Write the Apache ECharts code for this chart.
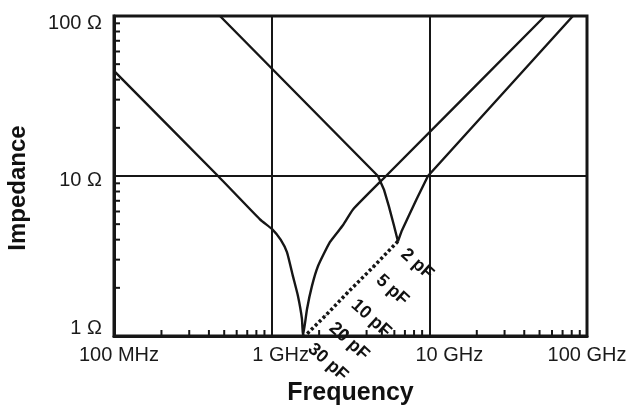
<!DOCTYPE html>
<html>
<head>
<meta charset="utf-8">
<script src="https://cdn.jsdelivr.net/npm/echarts@6/dist/echarts.min.js"></script>
<style>
  html, body { margin: 0; padding: 0; background: #ffffff; }
  #chart { width: 630px; height: 411px; }
</style>
</head>
<body>
<div id="chart"></div>
<script>
// ---- Data ----
const freqTickValues = [1e8, 1e9, 1e10, 1e11];
const freqTickLabels = ['100 MHz', '1 GHz', '10 GHz', '100 GHz'];
const impTickValues = [1, 10, 100];
const impTickLabels = ['1 Ω', '10 Ω', '100 Ω'];

const minorFreqTicks = [2e8, 3e8, 4e8, 5e8, 6e8, 7e8, 8e8, 9e8,
                        2e9, 3e9, 4e9, 5e9, 6e9, 7e9, 8e9, 9e9,
                        2e10, 3e10, 4e10, 5e10, 6e10, 7e10, 8e10, 9e10];
const minorImpTicks = [2, 3, 4, 5, 6, 7, 8, 9,
                       20, 30, 40, 50, 60, 70, 80, 90];

// 30 pF capacitor curve (Hz, ohms)
const cap30Freq = [1.00e8, 4.57e8, 8.43e8, 1.01e9, 1.14e9, 1.25e9, 1.365e9, 1.468e9, 1.556e9, 1.58e9,
                   1.675e9, 1.80e9, 1.966e9, 2.34e9, 2.83e9, 3.28e9, 5.31e9, 5.41e10];
const cap30Imp  = [45.4, 10, 5.36, 4.64, 4.0, 3.34, 2.36, 1.78, 1.28, 1.0,
                   1.47, 2.05, 2.73, 3.86, 4.92, 6.18, 10, 100];

// 2 pF capacitor curve (Hz, ohms)
const cap2Freq = [4.70e8, 4.72e9, 5.15e9, 5.54e9, 5.96e9, 6.32e9,
                  6.70e9, 7.32e9, 8.34e9, 9.80e9, 8.14e10];
const cap2Imp  = [100, 10, 8.24, 6.46, 4.92, 3.91,
                  4.57, 5.51, 7.24, 10, 100];

// Locus of the series-resonance points
const resonanceCaps = ['2 pF', '5 pF', '10 pF', '20 pF', '30 pF'];
const resonanceFreq = [6.32e9, 4.39e9, 3.05e9, 2.21e9, 1.625e9];
const resonanceImp  = [3.91, 2.69, 1.88, 1.35, 1.0];

const xAxisName = 'Frequency';
const yAxisName = 'Impedance';

// ---- Styling helpers (not data) ----
const INK = '#161616';
const FONT = '"Liberation Sans", Arial, Helvetica, sans-serif';
const xLabelShift = [10, 18, 40, 0];           // left padding (px) per x tick label
const yLabelPad = [[0, 0, 16, 0], [8, 0, 0, 0], [14, 0, 0, 0]];

function nearestIdx(values, v) {
  let best = 0, bd = Infinity;
  values.forEach((t, i) => {
    const d = Math.abs(Math.log10(t) - Math.log10(v));
    if (d < bd) { bd = d; best = i; }
  });
  return bd < 0.01 ? best : -1;
}

const xRich = {}, yRich = {};
freqTickLabels.forEach((l, i) => {
  xRich['x' + i] = { fontSize: 20, fontFamily: FONT, color: '#1a1a1a', padding: [0, 0, 0, xLabelShift[i]] };
});
impTickLabels.forEach((l, i) => {
  yRich['y' + i] = { fontSize: 20, fontFamily: FONT, color: '#1a1a1a', padding: yLabelPad[i] };
});

const zip = (a, b) => a.map((v, i) => [v, b[i]]);

const chart = echarts.init(document.getElementById('chart'), null, { renderer: 'canvas' });

const option = {
  animation: false,
  backgroundColor: '#ffffff',
  grid: {
    left: 114, top: 16, right: 43, bottom: 74,
    show: true, borderColor: INK, borderWidth: 3, backgroundColor: 'transparent'
  },
  xAxis: {
    type: 'log', logBase: 10, min: 1e8, max: 1e11,
    axisLine: { show: true, lineStyle: { color: INK, width: 3 } },
    axisTick: { show: false },
    splitLine: { show: true, lineStyle: { color: INK, width: 2 } },
    axisLabel: {
      margin: 9,
      formatter: v => {
        const i = nearestIdx(freqTickValues, v);
        return i < 0 ? '' : '{x' + i + '|' + freqTickLabels[i] + '}';
      },
      rich: xRich
    },
    name: xAxisName,
    nameLocation: 'middle',
    nameGap: 45,
    nameTextStyle: { fontSize: 25, fontWeight: 'bold', fontFamily: FONT, color: '#111' }
  },
  yAxis: {
    type: 'log', logBase: 10, min: 1, max: 100,
    axisLine: { show: true, lineStyle: { color: INK, width: 3 } },
    axisTick: { show: false },
    splitLine: { show: true, lineStyle: { color: INK, width: 2 } },
    axisLabel: {
      margin: 12,
      formatter: v => {
        const i = nearestIdx(impTickValues, v);
        return i < 0 ? '' : '{y' + i + '|' + impTickLabels[i] + '}';
      },
      rich: yRich
    }
  },
  graphic: [{
    type: 'text',
    x: 18, y: 188,
    rotation: Math.PI / 2,
    style: {
      text: yAxisName,
      font: 'bold 24px ' + FONT,
      fill: '#111',
      align: 'center',
      verticalAlign: 'middle'
    }
  }],
  series: [
    {
      name: '30 pF', type: 'line', data: zip(cap30Freq, cap30Imp),
      symbol: 'none', smooth: 0.15, clip: true,
      lineStyle: { color: INK, width: 2.4 }
    },
    {
      name: '2 pF', type: 'line', data: zip(cap2Freq, cap2Imp),
      symbol: 'none', smooth: false, clip: true,
      lineStyle: { color: INK, width: 2.4 }
    },
    {
      name: 'resonance', type: 'line', data: zip(resonanceFreq, resonanceImp),
      symbol: 'circle', symbolSize: 1, showSymbol: true,
      itemStyle: { color: INK },
      lineStyle: { color: INK, width: 3.5, type: [3, 2.5] },
      label: {
        show: true,
        formatter: p => resonanceCaps[p.dataIndex],
        position: [6, 11],
        rotate: -42,
        align: 'left',
        verticalAlign: 'middle',
        fontSize: 18, fontWeight: 'bold', fontFamily: FONT, color: '#111'
      },
      z: 5
    },
    {
      name: 'xMinorTicks', type: 'custom', coordinateSystem: 'cartesian2d',
      data: minorFreqTicks.map(f => [f, 1]),
      silent: true, clip: false,
      renderItem: (params, api) => {
        const p = api.coord([api.value(0), api.value(1)]);
        return { type: 'line', shape: { x1: p[0], y1: p[1], x2: p[0], y2: p[1] - 6 },
                 style: { stroke: INK, lineWidth: 2 } };
      }
    },
    {
      name: 'yMinorTicks', type: 'custom', coordinateSystem: 'cartesian2d',
      data: minorImpTicks.map(z => [1e8, z]),
      silent: true, clip: false,
      renderItem: (params, api) => {
        const p = api.coord([api.value(0), api.value(1)]);
        return { type: 'line', shape: { x1: p[0], y1: p[1], x2: p[0] + 6, y2: p[1] },
                 style: { stroke: INK, lineWidth: 2 } };
      }
    }
  ]
};
chart.setOption(option);
</script>
</body>
</html>
